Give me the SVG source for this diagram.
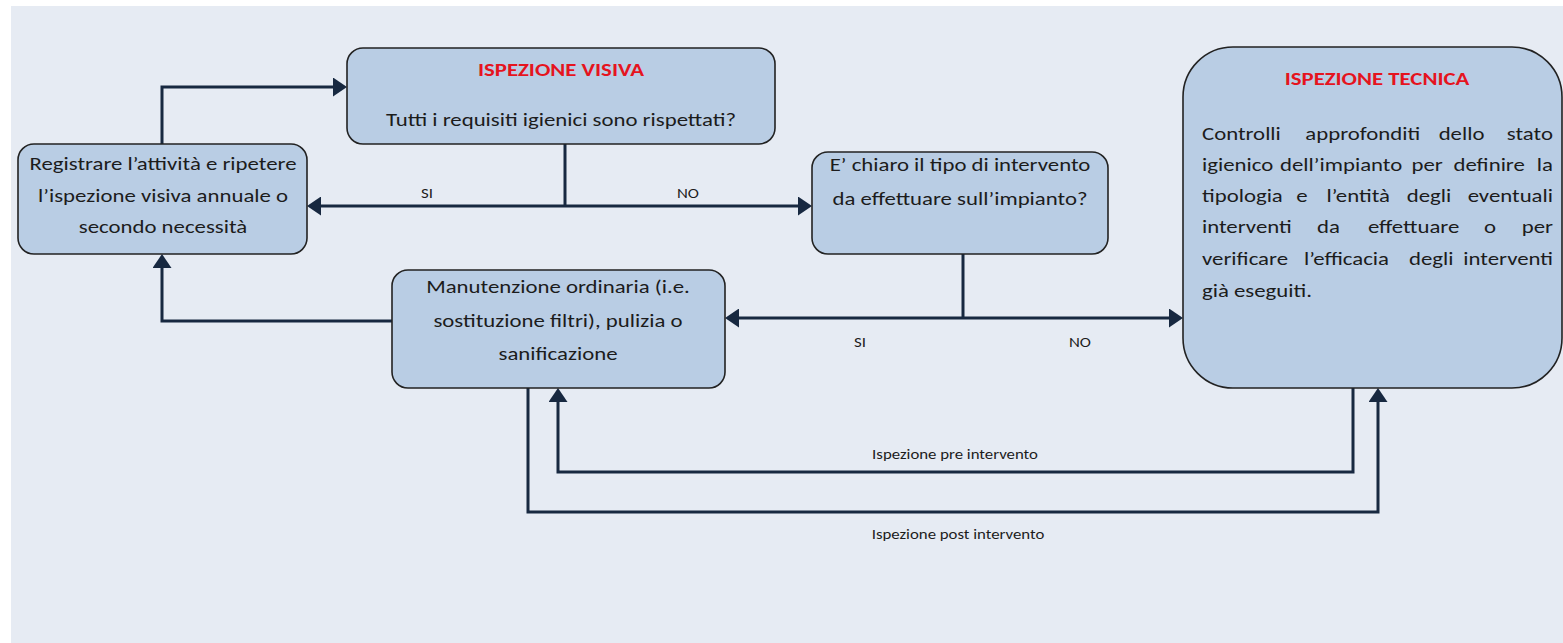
<svg xmlns="http://www.w3.org/2000/svg" width="1563" height="643" viewBox="0 0 1563 643">
<defs>
<style>
.box{fill:#B9CDE4;stroke:#222;stroke-width:1.6}
.t{font-family:Carlito,Lato,"Liberation Sans",sans-serif;font-size:19px;fill:#1c1c1c}
.c{text-anchor:middle}
.e{text-anchor:end}
.red{fill:#E5141E;font-weight:bold}
.lbl{font-family:Carlito,Lato,"Liberation Sans",sans-serif;font-size:14px;fill:#1c1c1c;text-anchor:middle}
.ln{fill:none;stroke:#172840;stroke-width:3}
</style>
<marker id="ah" viewBox="0 0 14 19" refX="8" refY="9.5" markerWidth="14" markerHeight="19" orient="auto" markerUnits="userSpaceOnUse">
<path d="M0,0 L14,9.5 L0,19 Z" fill="#172840"/>
</marker>
</defs>
<rect x="0" y="0" width="1563" height="643" fill="#ffffff"/>
<rect x="11" y="6" width="1552" height="637" fill="#E6EBF3"/>

<g id="connectors">
<path class="ln" d="M162,144 V87 H341" marker-end="url(#ah)"/>
<path class="ln" d="M565,144 V206"/>
<path class="ln" d="M565,206 H313" marker-end="url(#ah)"/>
<path class="ln" d="M565,206 H806" marker-end="url(#ah)"/>
<path class="ln" d="M963,254 V318"/>
<path class="ln" d="M963,318 H731" marker-end="url(#ah)"/>
<path class="ln" d="M963,318 H1177" marker-end="url(#ah)"/>
<path class="ln" d="M392,321 H162 V260" marker-end="url(#ah)"/>
<path class="ln" d="M1353,388 V472 H558 V394" marker-end="url(#ah)"/>
<path class="ln" d="M528,388 V512 H1378 V394" marker-end="url(#ah)"/>
<text class="lbl" transform="translate(427,198) scale(1.2,1)">SI</text>
<text class="lbl" transform="translate(688,198) scale(1.2,1)">NO</text>
<text class="lbl" transform="translate(860,347) scale(1.2,1)">SI</text>
<text class="lbl" transform="translate(1080,347) scale(1.2,1)">NO</text>
<text class="lbl" transform="translate(955,459) scale(1.2,1)">Ispezione pre intervento</text>
<text class="lbl" transform="translate(958,539) scale(1.2,1)">Ispezione post intervento</text>
</g>

<g id="ispezione-visiva">
<rect class="box" x="347" y="48" width="428" height="96" rx="16"/>
<text class="t c red" transform="translate(561,76) scale(1.2,1)">ISPEZIONE VISIVA</text>
<text class="t c" transform="translate(561,126) scale(1.2,1)">Tutti i requisiti igienici sono rispettati?</text>
</g>

<g id="registrare">
<rect class="box" x="18" y="144" width="289" height="110" rx="16"/>
<text class="t c" transform="translate(163,170) scale(1.2,1)">Registrare l’attività e ripetere</text>
<text class="t c" transform="translate(163,202) scale(1.2,1)">l’ispezione visiva annuale o</text>
<text class="t c" transform="translate(163,233) scale(1.2,1)">secondo necessità</text>
</g>

<g id="chiaro">
<rect class="box" x="812" y="152" width="296" height="102" rx="16"/>
<text class="t c" transform="translate(960,171) scale(1.2,1)">E’ chiaro il tipo di intervento</text>
<text class="t c" transform="translate(960,205) scale(1.2,1)">da effettuare sull’impianto?</text>
</g>

<g id="manutenzione">
<rect class="box" x="392" y="270" width="333" height="118" rx="16"/>
<text class="t c" transform="translate(558,293) scale(1.2,1)">Manutenzione ordinaria (i.e.</text>
<text class="t c" transform="translate(558,327) scale(1.2,1)">sostituzione filtri), pulizia o</text>
<text class="t c" transform="translate(558,360) scale(1.2,1)">sanificazione</text>
</g>

<g id="ispezione-tecnica">
<rect class="box" x="1183" y="47" width="379" height="341" rx="50"/>
<text class="t c red" transform="translate(1377,85) scale(1.2,1)">ISPEZIONE TECNICA</text>
<g transform="translate(1202,0) scale(1.2,1)">
<text class="t" y="140"><tspan x="0">Controlli</tspan><tspan x="86.1">approfonditi</tspan><tspan x="197.2">dello</tspan></text>
<text class="t e" x="292.5" y="140">stato</text>
<text class="t" y="171"><tspan x="0">igienico</tspan><tspan x="65">dell’impianto</tspan><tspan x="174.6">per</tspan><tspan x="209.6">definire</tspan></text>
<text class="t e" x="292.5" y="171">la</text>
<text class="t" y="202"><tspan x="0">tipologia</tspan><tspan x="78.6">e</tspan><tspan x="103.8">l’entità</tspan><tspan x="170.6">degli</tspan></text>
<text class="t e" x="292.5" y="202">eventuali</text>
<text class="t" y="233"><tspan x="0">interventi</tspan><tspan x="95.8">da</tspan><tspan x="138.3">effettuare</tspan><tspan x="235">o</tspan></text>
<text class="t e" x="292.5" y="233">per</text>
<text class="t" y="265"><tspan x="0">verificare</tspan><tspan x="85">l’efficacia</tspan><tspan x="172.5">degli</tspan></text>
<text class="t e" x="292.5" y="265">interventi</text>
<text class="t" x="0" y="297">già eseguiti.</text>
</g>
</g>
</svg>
